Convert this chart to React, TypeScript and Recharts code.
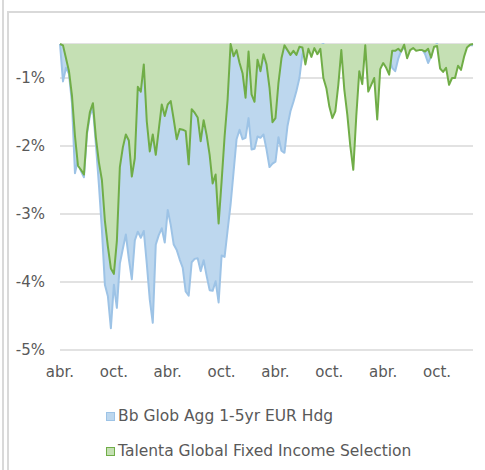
import React from "react";
import { AreaChart, Area, XAxis, YAxis, CartesianGrid } from "recharts";

// half-year labels along the bottom, one every TICK_STEP points
const TICK_LABELS = ["abr.", "oct.", "abr.", "oct.", "abr.", "oct.", "abr.", "oct."];
const TICK_STEP = 18;
const Y_TICKS = [-5, -4, -3, -2, -1];

// drawdown in % (chart is cut at -0.5%)
const BENCH = [
  -0.5, -1.05, -0.85, -0.94, -1.37, -2.4, -2.2, -2.37, -2.46, -1.83,
  -1.55, -1.44, -1.98, -2.57, -3.23, -4.04, -4.21, -4.68, -4.04, -4.38,
  -3.73, -3.51, -3.3, -3.66, -3.96, -3.39, -3.26, -3.35, -3.25, -3.73,
  -4.26, -4.6, -3.45, -3.31, -3.21, -3.42, -2.94, -3.16, -3.45, -3.53,
  -3.67, -3.79, -4.14, -4.2, -3.71, -3.66, -3.65, -3.84, -3.68, -3.91,
  -4.12, -4.13, -3.99, -4.3, -3.61, -3.63, -3.24, -2.86, -2.38, -1.9,
  -1.76, -1.9, -1.88, -1.59, -2.05, -2.04, -1.86, -1.88, -1.83, -2.05,
  -2.31, -2.26, -2.23, -1.87, -2.07, -2.1, -1.71, -1.49, -1.35, -1.19,
  -1.0, -0.65, -0.6, -0.55, -0.6, -0.52, -0.55, -0.52, -0.5, -0.55,
  -0.6, -0.62, -0.6, -0.7, -0.72, -0.6, -0.65, -0.7, -0.68, -0.62,
  -0.6, -0.62, -0.52, -0.65, -0.6, -0.6, -0.7, -0.6, -0.58, -0.6,
  -0.7, -0.85, -0.9, -0.72, -0.6, -0.55, -0.62, -0.58, -0.55, -0.55,
  -0.55, -0.57, -0.65, -0.78, -0.68, -0.52, -0.5, -0.55, -0.58, -0.6,
  -0.62, -0.6, -0.58, -0.55, -0.55, -0.55, -0.53, -0.52, -0.52,
];

const FUND = [
  -0.5, -0.52, -0.71, -0.9, -1.26, -1.85, -2.29, -2.35, -2.42, -1.8,
  -1.5, -1.37, -1.88, -2.24, -2.5, -3.1, -3.48, -3.8, -3.88, -3.4,
  -2.31, -2.02, -1.83, -1.92, -2.45, -2.18, -1.13, -1.2, -0.8, -1.64,
  -2.08, -1.83, -2.13, -1.76, -1.39, -1.56, -1.39, -1.34, -1.61, -1.9,
  -1.75, -1.76, -1.78, -2.27, -1.46, -1.51, -1.58, -1.93, -1.62, -1.84,
  -2.13, -2.55, -2.42, -3.14, -2.52, -1.86, -1.32, -0.5, -0.68, -0.59,
  -0.78, -0.93, -1.29, -0.61, -1.24, -1.35, -0.73, -0.9, -0.65, -0.8,
  -1.14, -1.65, -1.59, -1.07, -0.71, -0.52, -0.59, -0.66, -0.6, -0.66,
  -0.54, -0.55, -0.8, -0.57, -0.69, -0.56, -0.65, -0.57, -1.0, -1.15,
  -1.42, -1.59, -1.49, -1.1, -0.59, -1.17, -1.54, -2.0, -2.35, -1.56,
  -0.9, -1.09, -0.52, -1.2, -1.1, -1.0, -1.61, -0.87, -0.78, -0.85,
  -0.95, -0.6, -0.6, -0.57, -0.61, -0.51, -0.71, -0.59, -0.56, -0.6,
  -0.59, -0.59, -0.61, -0.57, -0.7, -0.54, -0.53, -0.86, -0.91, -0.85,
  -1.1, -1.0, -1.0, -0.82, -0.88, -0.69, -0.55, -0.51, -0.5,
];

const SERIES = [
  { key: "bench", name: "Bb Glob Agg 1-5yr EUR Hdg", fill: "#bdd7ee", stroke: "#9dc3e6" },
  { key: "fund", name: "Talenta Global Fixed Income Selection", fill: "#c5e0b4", stroke: "#70ad47" },
];

const data = FUND.map((v, i) => ({ i, bench: BENCH[i], fund: v }));
const xTicks = TICK_LABELS.map((_, k) => k * TICK_STEP);

const FONT = "'DejaVu Sans', sans-serif";
const TEXT = "#595959";
const LINE = "#d9d9d9";

export default function App() {
  return (
    <div style={{ position: "relative", width: 485, height: 470, background: "#fff", overflow: "hidden", fontFamily: FONT }}>
      <style>{"body{margin:0}"}</style>
      {/* frame lines */}
      <div style={{ position: "absolute", left: 2, top: 0, width: 2, height: 470, background: LINE }} />
      <div style={{ position: "absolute", left: 7, top: 11, width: 490, height: 470, borderTop: `2px solid ${LINE}`, borderLeft: `2px solid ${LINE}` }} />

      <div style={{ position: "absolute", left: 0, top: 0 }}>
        <AreaChart width={485} height={470} data={data} margin={{ top: 44, right: 12, bottom: 90, left: 0 }}>
          <CartesianGrid vertical={false} stroke={LINE} strokeWidth={1.5} />
          <XAxis
            dataKey="i"
            type="number"
            domain={[0, data.length - 1]}
            ticks={xTicks}
            tickFormatter={(v) => TICK_LABELS[Math.round(v / TICK_STEP)]}
            axisLine={false}
            tickLine={false}
            tickMargin={10}
            height={30}
            tick={{ fill: TEXT, fontSize: 15, fontFamily: FONT }}
          />
          <YAxis
            type="number"
            domain={[-5, -0.5]}
            ticks={Y_TICKS}
            tickFormatter={(v) => `${v}%`}
            axisLine={false}
            tickLine={false}
            tickMargin={9}
            width={60}
            tick={{ fill: TEXT, fontSize: 15, fontFamily: FONT }}
          />
          {SERIES.map((s) => (
            <Area
              key={s.key}
              dataKey={s.key}
              name={s.name}
              type="linear"
              baseValue={-0.5}
              fill={s.fill}
              fillOpacity={1}
              stroke={s.stroke}
              strokeWidth={2}
              strokeLinejoin="round"
              dot={false}
              activeDot={false}
              isAnimationActive={false}
            />
          ))}
        </AreaChart>
      </div>

      {/* legend */}
      {SERIES.map((s, k) => (
        <div
          key={s.key}
          style={{ position: "absolute", left: 106, top: 406 + k * 35, height: 20, display: "flex", alignItems: "center", color: TEXT, fontSize: 15.5, whiteSpace: "nowrap" }}
        >
          <span style={{ display: "inline-block", width: 7, height: 7, background: s.fill, border: `1.5px solid ${s.stroke}`, marginRight: 3 }} />
          {s.name}
        </div>
      ))}
    </div>
  );
}
